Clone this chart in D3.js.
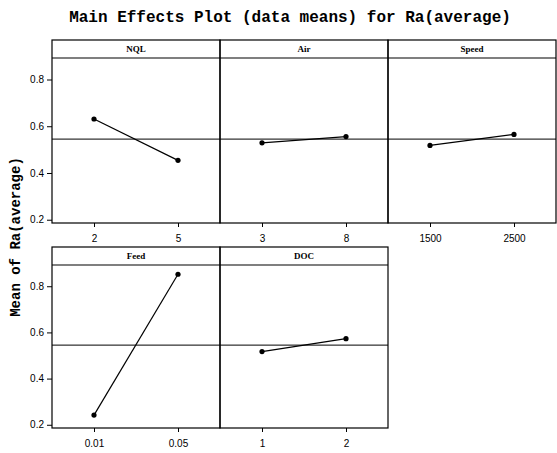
<!DOCTYPE html>
<html><head><meta charset="utf-8">
<script src="https://cdn.jsdelivr.net/npm/d3@7"></script>
<style>body{margin:0;background:#fff}svg{display:block}</style>
</head><body>
<script>
const factors = ["NQL", "Air", "Speed", "Feed", "DOC"];
const levels = [["2", "5"], ["3", "8"], ["1500", "2500"], ["0.01", "0.05"], ["1", "2"]];
const means = [[0.631, 0.454], [0.529, 0.556], [0.518, 0.565], [0.242, 0.852], [0.517, 0.573]];
const grandMean = 0.545;
const yTicks = [0.2, 0.4, 0.6, 0.8];

const W = 557, H = 453;
const svg = d3.select("body").append("svg").attr("width", W).attr("height", H);

svg.append("text").attr("x", 290).attr("y", 22).attr("text-anchor", "middle")
  .attr("font-family", "Liberation Mono").attr("font-weight", "bold").attr("font-size", 16)
  .text("Main Effects Plot (data means) for Ra(average)");

svg.append("text").attr("transform", "translate(20,237) rotate(-90)").attr("text-anchor", "middle")
  .attr("font-family", "Liberation Mono").attr("font-weight", "bold").attr("font-size", 14)
  .text("Mean of Ra(average)");

const panelW = 168, x0 = 52;
const rows = [{top: 40, strip: 58, bottom: 223}, {top: 247, strip: 265, bottom: 428}];
const yDomain = [0.186, 0.892];

factors.forEach((f, i) => {
  const r = Math.floor(i / 3), c = i % 3;
  const row = rows[r];
  const left = x0 + c * panelW;
  const g = svg.append("g");
  const x = d3.scalePoint().domain(levels[i]).range([left, left + panelW]).padding(0.5);
  const y = d3.scaleLinear().domain(yDomain).range([row.bottom, row.strip]);

  g.append("rect").attr("x", left).attr("y", row.top).attr("width", panelW).attr("height", row.bottom - row.top)
    .attr("fill", "none").attr("stroke", "#000").attr("stroke-width", 1.2);
  g.append("line").attr("x1", left).attr("x2", left + panelW).attr("y1", row.strip).attr("y2", row.strip)
    .attr("stroke", "#000").attr("stroke-width", 1.2);
  g.append("text").attr("x", left + panelW / 2).attr("y", row.top + 12).attr("text-anchor", "middle")
    .attr("font-family", "Liberation Serif").attr("font-weight", "bold").attr("font-size", 9).text(f);

  g.append("line").attr("x1", left).attr("x2", left + panelW).attr("y1", y(grandMean)).attr("y2", y(grandMean))
    .attr("stroke", "#000").attr("stroke-width", 1);

  const xa = g.append("g").attr("transform", `translate(0,${row.bottom})`)
    .call(d3.axisBottom(x).tickSize(4).tickPadding(8));
  xa.select(".domain").remove();
  xa.selectAll("text").attr("font-family", "Liberation Sans").attr("font-size", 10).attr("fill", "#000");

  if (c === 0) {
    const ya = g.append("g").attr("transform", `translate(${left},0)`)
      .call(d3.axisLeft(y).tickValues(yTicks).tickFormat(d3.format(".1f")).tickSize(5).tickPadding(3));
    ya.select(".domain").remove();
    ya.selectAll("text").attr("font-family", "Liberation Sans").attr("font-size", 10).attr("fill", "#000");
  }

  const pts = levels[i].map((l, j) => [x(l), y(means[i][j])]);
  g.append("path").attr("d", d3.line()(pts)).attr("fill", "none").attr("stroke", "#000").attr("stroke-width", 1.2);
  g.selectAll("circle").data(pts).join("circle").attr("cx", d => d[0]).attr("cy", d => d[1]).attr("r", 2.6).attr("fill", "#000");
});
</script>
</body></html>
